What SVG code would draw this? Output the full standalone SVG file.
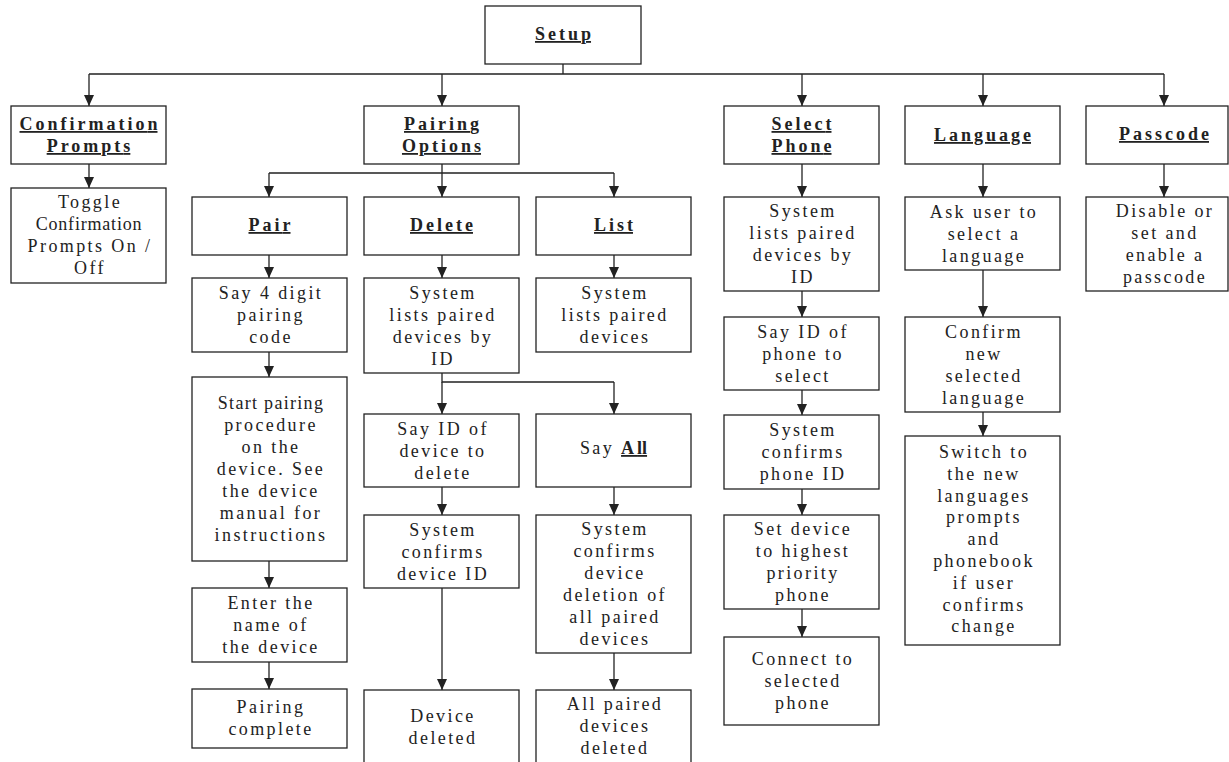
<svg xmlns="http://www.w3.org/2000/svg" width="1229" height="762" viewBox="0 0 1229 762">
<defs>
<marker id="ah" viewBox="0 0 11 10" refX="11" refY="5" markerWidth="11" markerHeight="10" markerUnits="userSpaceOnUse" orient="auto">
<path d="M0,0 L11,5 L0,10 z" fill="#222"/>
</marker>
<style>
.b{fill:#fff;stroke:#222;stroke-width:1.3}
.t{font-family:"Liberation Serif","Times New Roman",serif;font-size:18px;letter-spacing:2.4px;fill:#222;text-anchor:middle}
.h{font-weight:bold;text-decoration:underline;letter-spacing:3px}
.z{letter-spacing:0}
.c{fill:none;stroke:#222;stroke-width:1.3}
.a{fill:none;stroke:#222;stroke-width:1.3;marker-end:url(#ah)}
</style>
</defs>
<rect width="1229" height="762" fill="#fff"/>
<g id="connectors">
<path class="c" d="M563,64 V74 M89,74 H1164"/>
<path class="a" d="M89,74 V106"/>
<path class="a" d="M442,74 V106"/>
<path class="a" d="M802,74 V106"/>
<path class="a" d="M983,74 V106"/>
<path class="a" d="M1164,74 V106"/>
<path class="a" d="M89,164 V188"/>
<path class="c" d="M442,164 V173 M269,173 H614"/>
<path class="a" d="M269,173 V197"/>
<path class="a" d="M442,173 V197"/>
<path class="a" d="M614,173 V197"/>
<path class="a" d="M269,255 V278"/>
<path class="a" d="M269,352 V377"/>
<path class="a" d="M269,561 V588"/>
<path class="a" d="M269,662 V689"/>
<path class="a" d="M442,255 V278"/>
<path class="c" d="M442,373 V382 H614"/>
<path class="a" d="M442,382 V414"/>
<path class="a" d="M614,382 V414"/>
<path class="a" d="M442,487 V515"/>
<path class="a" d="M442,588 V690"/>
<path class="a" d="M614,255 V278"/>
<path class="a" d="M614,487 V515"/>
<path class="a" d="M614,653 V690"/>
<path class="a" d="M802,164 V197"/>
<path class="a" d="M802,291 V317"/>
<path class="a" d="M802,390 V415"/>
<path class="a" d="M802,489 V515"/>
<path class="a" d="M802,609 V637"/>
<path class="a" d="M983,164 V197"/>
<path class="a" d="M983,270 V317"/>
<path class="a" d="M983,412 V436"/>
<path class="a" d="M1164,164 V197"/>
</g>
<g id="setup"><rect class="b" x="485" y="6" width="156" height="58"/><text class="t h" x="563" y="40">Setu<tspan class="z">p</tspan></text></g>
<g id="confirmation-prompts"><rect class="b" x="11" y="106" width="155" height="58"/><text class="t h" x="88.5" y="130">Confirmatio<tspan class="z">n</tspan><tspan x="88.5" dy="22">Prompt<tspan class="z">s</tspan></tspan></text></g>
<g id="toggle"><rect class="b" x="11" y="188" width="155" height="95"/><text class="t" x="90" y="208">Toggle<tspan x="89" dy="22" style="letter-spacing:0.8px">Confirmation</tspan><tspan x="90" dy="22">Prompts On /</tspan><tspan x="90" dy="22">Off</tspan></text></g>
<g id="pairing-options"><rect class="b" x="364" y="106" width="155" height="58"/><text class="t h" x="441.5" y="130">Pairin<tspan class="z">g</tspan><tspan x="441.5" dy="22">Option<tspan class="z">s</tspan></tspan></text></g>
<g id="pair"><rect class="b" x="192" y="197" width="155" height="58"/><text class="t h" x="269.5" y="231">Pai<tspan class="z">r</tspan></text></g>
<g id="delete"><rect class="b" x="364" y="197" width="155" height="58"/><text class="t h" x="441.5" y="231">Delet<tspan class="z">e</tspan></text></g>
<g id="list"><rect class="b" x="536" y="197" width="155" height="58"/><text class="t h" x="613.5" y="231">Lis<tspan class="z">t</tspan></text></g>
<g id="select-phone"><rect class="b" x="724" y="106" width="155" height="58"/><text class="t h" x="801.5" y="130">Selec<tspan class="z">t</tspan><tspan x="801.5" dy="22">Phon<tspan class="z">e</tspan></tspan></text></g>
<g id="language"><rect class="b" x="905" y="106" width="155" height="58"/><text class="t h" x="982.5" y="141">Languag<tspan class="z">e</tspan></text></g>
<g id="passcode"><rect class="b" x="1086" y="106" width="142" height="58"/><text class="t h" x="1164" y="140">Passcod<tspan class="z">e</tspan></text></g>
<g id="pair-code"><rect class="b" x="192" y="278" width="155" height="74"/><text class="t" x="271" y="299">Say 4 digit<tspan x="271" dy="22">pairing</tspan><tspan x="271" dy="22">code</tspan></text></g>
<g id="pair-procedure"><rect class="b" x="192" y="377" width="155" height="184"/><text class="t" x="271" y="409"><tspan style="letter-spacing:1.3px">Start pairing</tspan><tspan x="271" dy="22">procedure</tspan><tspan x="271" dy="22">on the</tspan><tspan x="271" dy="22">device. See</tspan><tspan x="271" dy="22">the device</tspan><tspan x="271" dy="22">manual for</tspan><tspan x="271" dy="22">instructions</tspan></text></g>
<g id="pair-name"><rect class="b" x="192" y="588" width="155" height="74"/><text class="t" x="271" y="609">Enter the<tspan x="271" dy="22">name of</tspan><tspan x="271" dy="22">the device</tspan></text></g>
<g id="pair-complete"><rect class="b" x="192" y="689" width="155" height="59"/><text class="t" x="271" y="713">Pairing<tspan x="271" dy="22">complete</tspan></text></g>
<g id="delete-list"><rect class="b" x="364" y="278" width="155" height="95"/><text class="t" x="443" y="299">System<tspan x="443" dy="22">lists paired</tspan><tspan x="443" dy="22">devices by</tspan><tspan x="443" dy="22">ID</tspan></text></g>
<g id="delete-say-id"><rect class="b" x="364" y="414" width="155" height="73"/><text class="t" x="443" y="435">Say ID of<tspan x="443" dy="22">device to</tspan><tspan x="443" dy="22">delete</tspan></text></g>
<g id="delete-confirm"><rect class="b" x="364" y="515" width="155" height="73"/><text class="t" x="443" y="536">System<tspan x="443" dy="22">confirms</tspan><tspan x="443" dy="22">device ID</tspan></text></g>
<g id="device-deleted"><rect class="b" x="364" y="690" width="155" height="80"/><text class="t" x="443" y="722">Device<tspan x="443" dy="22">deleted</tspan></text></g>
<g id="say-all"><rect class="b" x="536" y="414" width="155" height="73"/><text class="t" x="613.5" y="454">Say <tspan class="h">A<tspan class="z">ll</tspan></tspan></text></g>
<g id="all-confirm"><rect class="b" x="536" y="515" width="155" height="138"/><text class="t" x="615" y="535">System<tspan x="615" dy="22">confirms</tspan><tspan x="615" dy="22">device</tspan><tspan x="615" dy="22">deletion of</tspan><tspan x="615" dy="22">all paired</tspan><tspan x="615" dy="22">devices</tspan></text></g>
<g id="all-deleted"><rect class="b" x="536" y="690" width="155" height="80"/><text class="t" x="615" y="710">All paired<tspan x="615" dy="22">devices</tspan><tspan x="615" dy="22">deleted</tspan></text></g>
<g id="list-system"><rect class="b" x="536" y="278" width="155" height="74"/><text class="t" x="615" y="299">System<tspan x="615" dy="22">lists paired</tspan><tspan x="615" dy="22">devices</tspan></text></g>
<g id="phone-list"><rect class="b" x="724" y="197" width="155" height="94"/><text class="t" x="803" y="217">System<tspan x="803" dy="22">lists paired</tspan><tspan x="803" dy="22">devices by</tspan><tspan x="803" dy="22">ID</tspan></text></g>
<g id="phone-say-id"><rect class="b" x="724" y="317" width="155" height="73"/><text class="t" x="803" y="338">Say ID of<tspan x="803" dy="22">phone to</tspan><tspan x="803" dy="22">select</tspan></text></g>
<g id="phone-confirm"><rect class="b" x="724" y="415" width="155" height="74"/><text class="t" x="803" y="436">System<tspan x="803" dy="22">confirms</tspan><tspan x="803" dy="22">phone ID</tspan></text></g>
<g id="phone-priority"><rect class="b" x="724" y="515" width="155" height="94"/><text class="t" x="803" y="535">Set device<tspan x="803" dy="22">to highest</tspan><tspan x="803" dy="22">priority</tspan><tspan x="803" dy="22">phone</tspan></text></g>
<g id="phone-connect"><rect class="b" x="724" y="637" width="155" height="88"/><text class="t" x="803" y="665">Connect to<tspan x="803" dy="22">selected</tspan><tspan x="803" dy="22">phone</tspan></text></g>
<g id="lang-ask"><rect class="b" x="905" y="197" width="155" height="73"/><text class="t" x="984" y="218">Ask user to<tspan x="984" dy="22">select a</tspan><tspan x="984" dy="22">language</tspan></text></g>
<g id="lang-confirm"><rect class="b" x="905" y="317" width="155" height="95"/><text class="t" x="984" y="338">Confirm<tspan x="984" dy="22">new</tspan><tspan x="984" dy="22">selected</tspan><tspan x="984" dy="22">language</tspan></text></g>
<g id="lang-switch"><rect class="b" x="905" y="436" width="155" height="209"/><text class="t" x="984" y="458">Switch to<tspan x="984" dy="21.8">the new</tspan><tspan x="984" dy="21.8">languages</tspan><tspan x="984" dy="21.8">prompts</tspan><tspan x="984" dy="21.8">and</tspan><tspan x="984" dy="21.8">phonebook</tspan><tspan x="984" dy="21.8">if user</tspan><tspan x="984" dy="21.8">confirms</tspan><tspan x="984" dy="21.8">change</tspan></text></g>
<g id="pass-set"><rect class="b" x="1086" y="197" width="142" height="94"/><text class="t" x="1165" y="217">Disable or<tspan x="1165" dy="22">set and</tspan><tspan x="1165" dy="22">enable a</tspan><tspan x="1165" dy="22">passcode</tspan></text></g>
</svg>
